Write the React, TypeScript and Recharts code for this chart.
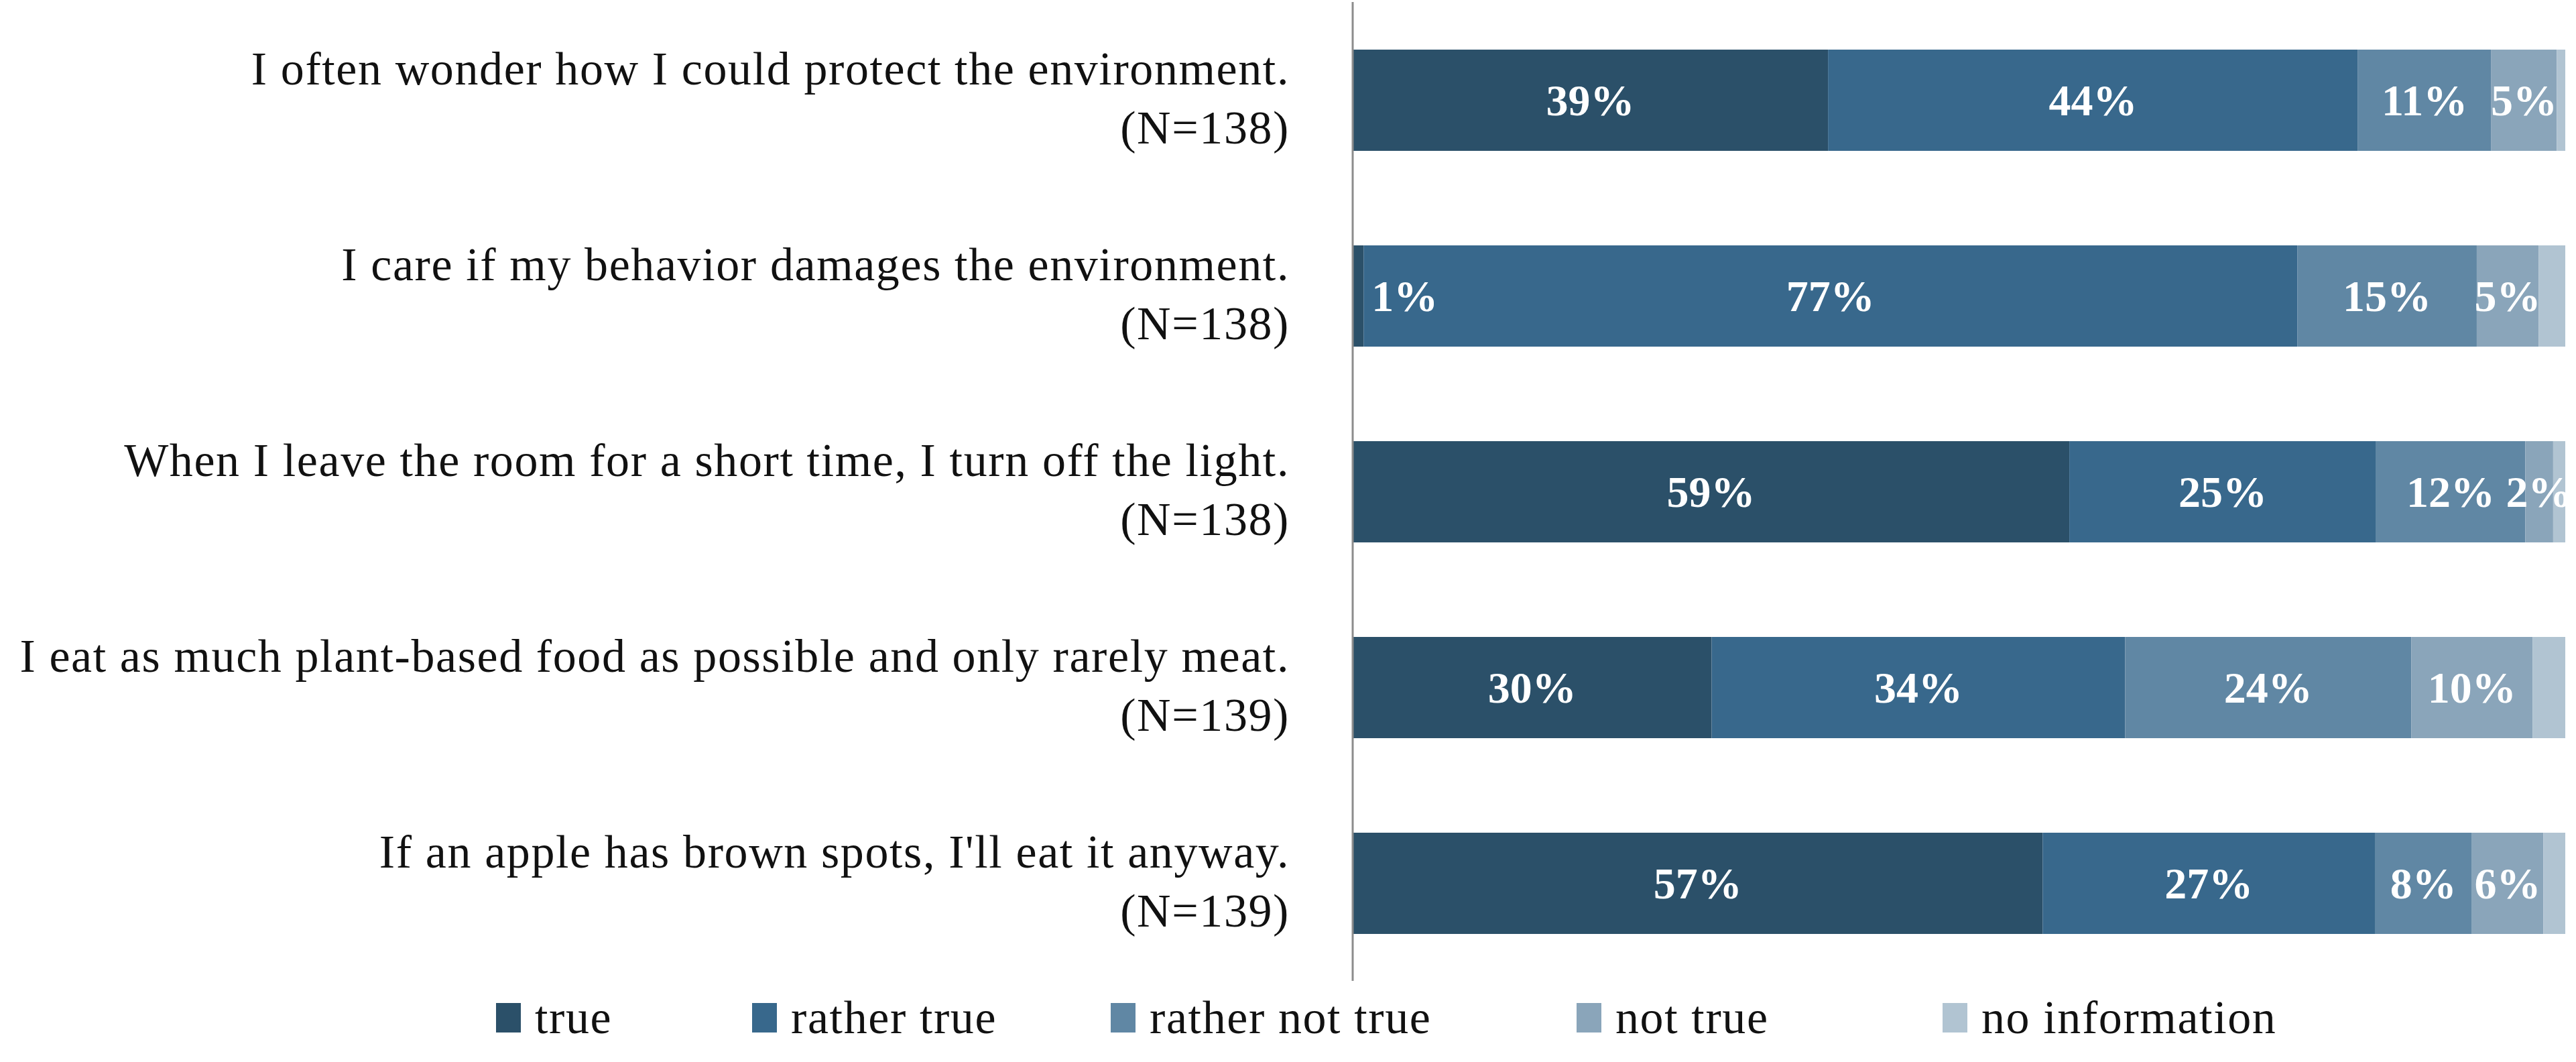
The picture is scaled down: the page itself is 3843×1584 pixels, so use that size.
import React from 'react';
import { BarChart, Bar, XAxis, YAxis, LabelList } from 'recharts';

const categories = [
  'I often wonder how I could protect the environment.',
  'I care if my behavior damages the environment.',
  'When I leave the room for a short time, I turn off the light.',
  'I eat as much plant-based food as possible and only rarely meat.',
  "If an apple has brown spots, I'll eat it anyway.",
];
const sampleSizes = ['(N=138)', '(N=138)', '(N=138)', '(N=139)', '(N=139)'];

const seriesNames = ['true', 'rather true', 'rather not true', 'not true', 'no information'];
const trueVals = [39.2, 0.9, 59.1, 29.6, 56.9];
const ratherTrueVals = [43.7, 77.0, 25.3, 34.1, 27.4];
const ratherNotTrueVals = [11.0, 14.8, 12.3, 23.6, 8.0];
const notTrueVals = [5.4, 5.1, 2.3, 10.0, 5.9];
const noInfoVals = [0.7, 2.2, 1.0, 2.7, 1.8];

const seriesColors = ['#2b5069', '#38688c', '#6087a4', '#8aa5ba', '#b1c4d2'];
const labelledSeries = [true, true, true, true, false];
const legendItemWidths = [382, 535, 695, 546, 0];

const allSeries = [trueVals, ratherTrueVals, ratherNotTrueVals, notTrueVals, noInfoVals];

const data = categories.map((name, i) => {
  const row: Record<string, any> = { name };
  allSeries.forEach((vals, s) => {
    row['v' + s] = vals[i];
  });
  return row;
});

const FONT = '"Liberation Serif", "Times New Roman", serif';

const CategoryTick = (props: any) => {
  const { x, y, payload, index } = props;
  return (
    <g>
      <text x={x} y={y - 23} textAnchor="end" fontFamily={FONT} fontSize={70} letterSpacing={1.6} fill="#111">
        {payload.value}
      </text>
      <text x={x} y={y + 65} textAnchor="end" fontFamily={FONT} fontSize={70} letterSpacing={1.6} fill="#111">
        {sampleSizes[index]}
      </text>
    </g>
  );
};

const renderValueLabel = (props: any) => {
  const { x, y, width, height, value } = props;
  const small = width < 40;
  const tx = small ? x + width + 12 : x + width / 2;
  return (
    <text
      x={tx}
      y={y + height / 2}
      textAnchor={small ? 'start' : 'middle'}
      dominantBaseline="central"
      fontFamily={FONT}
      fontWeight="bold"
      fontSize={66}
      fill="#ffffff"
    >
      {Math.round(Number(value)) + '%'}
    </text>
  );
};

export default function App() {
  return (
    <div style={{ position: 'absolute', left: 0, top: 0, width: 3843, height: 1584, background: '#fff' }}>
      <BarChart
        width={3843}
        height={1584}
        data={data}
        layout="vertical"
        margin={{ top: 3, right: 16, left: 0, bottom: 121 }}
        barSize={151}
      >
        <XAxis type="number" domain={[0, 100]} hide />
        <YAxis
          type="category"
          dataKey="name"
          width={2018}
          axisLine={{ stroke: '#8c8c8c', strokeWidth: 3 }}
          tickLine={false}
          tickSize={0}
          tickMargin={94}
          tick={<CategoryTick />}
          interval={0}
        />
        {seriesNames.map((n, s) => (
          <Bar key={n} dataKey={'v' + s} name={n} stackId="a" fill={seriesColors[s]} isAnimationActive={false}>
            {labelledSeries[s] ? <LabelList dataKey={'v' + s} content={renderValueLabel} /> : null}
          </Bar>
        ))}
      </BarChart>
      <div
        style={{
          position: 'absolute',
          left: 740,
          top: 1478,
          display: 'flex',
          alignItems: 'center',
          fontFamily: FONT,
          fontSize: 70,
          letterSpacing: 1.6,
          color: '#111',
          whiteSpace: 'nowrap',
        }}
      >
        {seriesNames.map((n, s) => (
          <div
            key={n}
            style={{
              display: 'flex',
              alignItems: 'center',
              width: legendItemWidths[s] || 'auto',
              flexShrink: 0,
            }}
          >
            <div style={{ width: 37, height: 44, background: seriesColors[s], marginRight: 21, flexShrink: 0 }} />
            <span style={{ lineHeight: '80px' }}>{n}</span>
          </div>
        ))}
      </div>
    </div>
  );
}
